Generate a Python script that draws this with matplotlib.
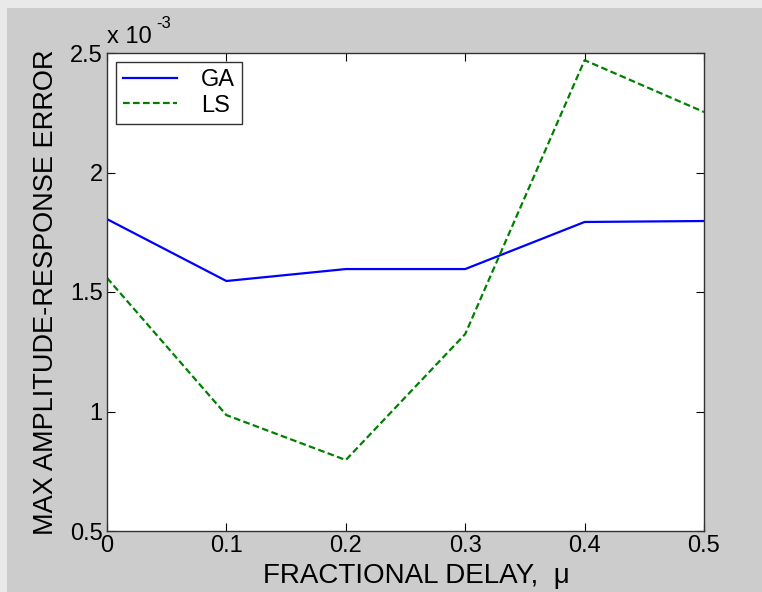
import matplotlib
matplotlib.use('Agg')
import matplotlib.pyplot as plt
from matplotlib.patches import Rectangle

# fractional delay values
delays = [0.0, 0.1, 0.2, 0.3, 0.4, 0.5]
# max amplitude-response error, in units of 1e-3
ga_err = [1.805, 1.546, 1.596, 1.596, 1.793, 1.797]
ls_err = [1.559, 0.985, 0.797, 1.324, 2.47, 2.253]

x_ticks = [0, 0.1, 0.2, 0.3, 0.4, 0.5]
x_tick_labels = ['0', '0.1', '0.2', '0.3', '0.4', '0.5']
y_ticks = [0.5, 1, 1.5, 2, 2.5]
y_tick_labels = ['0.5', '1', '1.5', '2', '2.5']

plt.rcParams['font.family'] = ['Liberation Sans', 'DejaVu Sans']

fig = plt.figure(figsize=(7.62, 5.92), dpi=100)
fig.patch.set_facecolor('#cccccc')
# light strips along top and left edge
fig.patches.append(Rectangle((0, 0), 7 / 762, 1, transform=fig.transFigure,
                             facecolor='#e9e9e9', edgecolor='none'))
fig.patches.append(Rectangle((0, 1 - 8 / 592), 1, 8 / 592, transform=fig.transFigure,
                             facecolor='#e9e9e9', edgecolor='none'))

ax = fig.add_axes([107 / 762, 1 - 531 / 592, (704 - 107) / 762, (531 - 53) / 592])
ax.set_facecolor('white')

ax.plot(delays, ga_err, color='#0000ff', linewidth=1.6, label='GA')
ax.plot(delays, ls_err, color='#008000', linewidth=1.6, linestyle=(0, (3, 1.5)), label='LS')

ax.set_xlim(0, 0.5)
ax.set_ylim(0.5, 2.5)
ax.set_xticks(x_ticks)
ax.set_xticklabels(x_tick_labels)
ax.set_yticks(y_ticks)
ax.set_yticklabels(y_tick_labels)
ax.tick_params(direction='in', length=6, width=0.8, top=True, right=True,
               labelsize=17)
ax.tick_params(axis='x', pad=3)
ax.tick_params(axis='y', pad=3)
for s in ax.spines.values():
    s.set_linewidth(1.0)
    s.set_color('#333333')

ax.set_xlabel('FRACTIONAL DELAY,  \u03bc', fontsize=20)
ax.xaxis.set_label_coords(0.518, -0.066, transform=ax.transAxes)
ax.xaxis.label.set_va('top')
ax.set_ylabel('MAX AMPLITUDE-RESPONSE ERROR', fontsize=19.5)
ax.yaxis.set_label_coords(-0.08, 0.5)

fig.text(107 / 762, 1 - 43 / 592, 'x 10', fontsize=17, ha='left', va='baseline')
fig.text(156 / 762, 1 - 28 / 592, '-3', fontsize=12, ha='left', va='baseline')

leg = ax.legend(loc='upper left', fontsize=17, fancybox=False, framealpha=1,
                edgecolor='#333333', bbox_to_anchor=(9 / 597, 1 - 9 / 478),
                borderaxespad=0, handlelength=2.3, handletextpad=1.0,
                borderpad=0.3, labelspacing=0.15)
leg.get_frame().set_linewidth(1.0)

fig.savefig('out.png', dpi=100, facecolor=fig.get_facecolor())
